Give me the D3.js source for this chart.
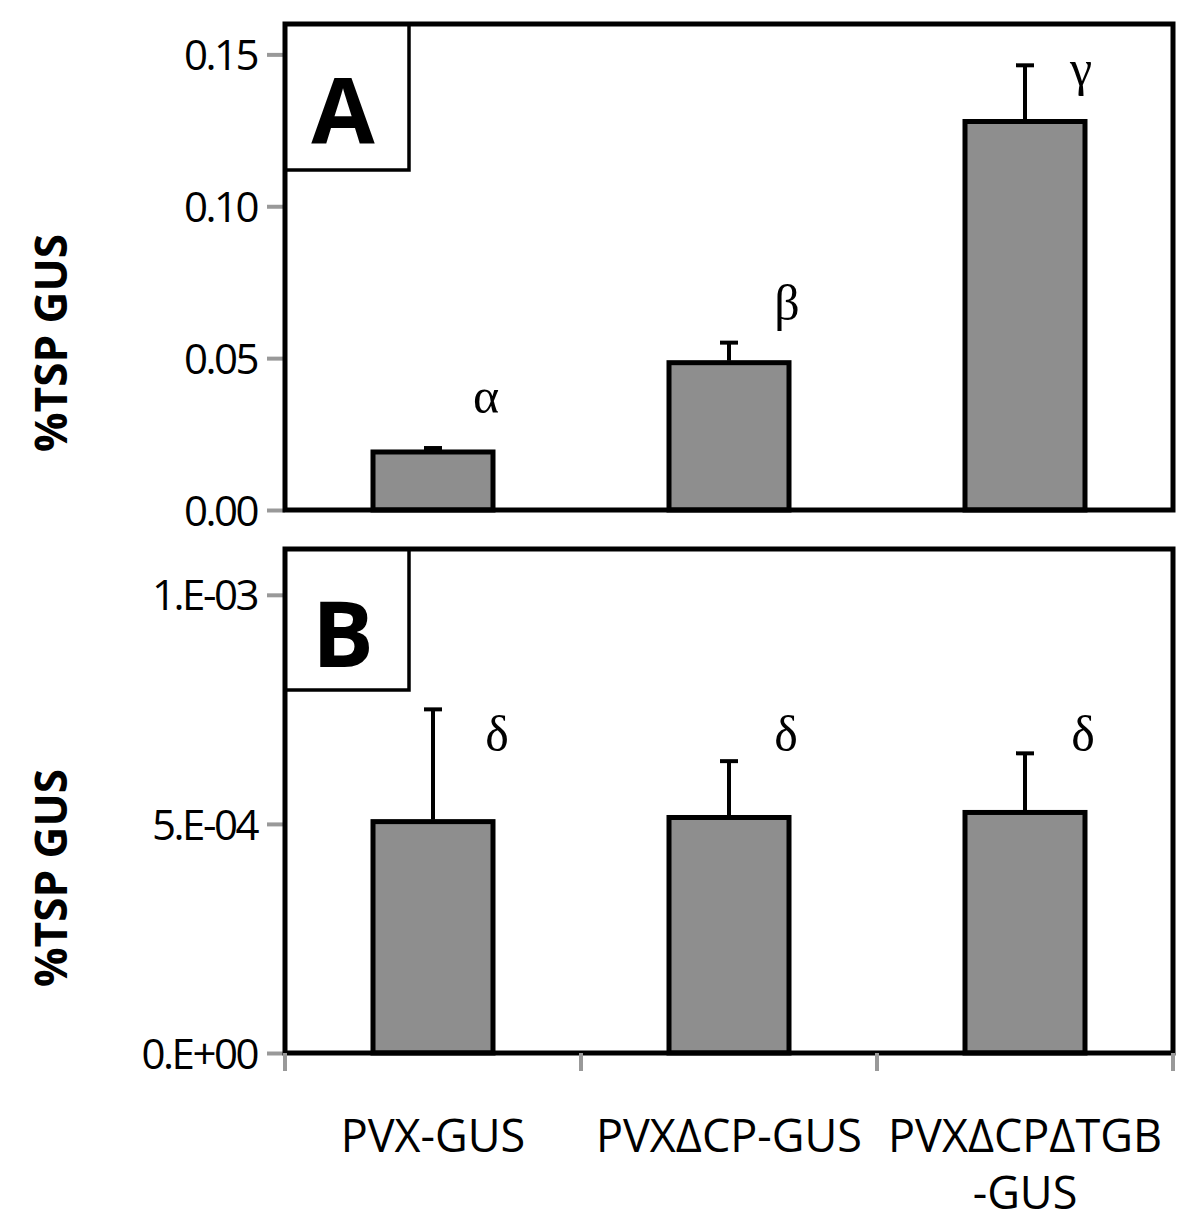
<!DOCTYPE html>
<html><head><meta charset="utf-8">
<script src="https://cdn.jsdelivr.net/npm/d3@7"></script>
<style>body{margin:0;background:#fff}svg{display:block}</style>
</head><body>
<svg id="c" width="1200" height="1226"></svg>
<script>
const categories = ["PVX-GUS", "PVXΔCP-GUS", "PVXΔCPΔTGB\n-GUS"];
const valuesA = [0.0191, 0.0485, 0.1279];
const errorsA = [0.0013, 0.0066, 0.0185];
const lettersA = ["α", "β", "γ"];
const valuesB = [5.05e-4, 5.14e-4, 5.25e-4];
const errorsB = [2.45e-4, 1.23e-4, 1.29e-4];
const lettersB = ["δ", "δ", "δ"];
const ticksA = [0, 0.05, 0.10, 0.15];
const tickLabelsA = ["0.00", "0.05", "0.10", "0.15"];
const ticksB = [0, 5e-4, 1e-3];
const tickLabelsB = ["0.E+00", "5.E-04", "1.E-03"];

const svg = d3.select("#c");
const left = 285, right = 1173;
const x = d3.scaleBand().domain(d3.range(categories.length)).range([left, right]).paddingInner(0).paddingOuter(0);
const barW = 120;
const font = "'Open Sans', 'Liberation Sans', sans-serif";
const serif = "'Liberation Serif', 'DejaVu Serif', serif";

function panel(top, bottom, max, vals, errs, letters, ticks, tickLabels, letterName, labelBoxH, ylabelY, letterPos) {
  const y = d3.scaleLinear().domain([0, max]).range([bottom, top]);
  const g = svg.append("g");
  const axis = d3.axisLeft(y).tickValues(ticks).tickFormat((d, i) => tickLabels[i]).tickSize(18).tickPadding(10);
  const ag = g.append("g").attr("transform", `translate(${left},0)`).call(axis);
  ag.select(".domain").remove();
  ag.selectAll(".tick line").attr("stroke", "#999").attr("stroke-width", 4);
  ag.selectAll(".tick text").attr("font-family", font).attr("font-size", 42)
    .attr("letter-spacing", -2.5).attr("fill", "#000").attr("dy", "0.36em");
  g.selectAll("rect.bar").data(vals).join("rect").attr("class", "bar")
    .attr("x", (d, i) => x(i) + x.bandwidth() / 2 - barW / 2)
    .attr("y", d => y(d)).attr("width", barW).attr("height", d => y(0) - y(d))
    .attr("fill", "#8e8e8e").attr("stroke", "#000").attr("stroke-width", 5);
  vals.forEach((v, i) => {
    const cx = x(i) + x.bandwidth() / 2;
    g.append("line").attr("x1", cx).attr("x2", cx).attr("y1", y(v) - 2).attr("y2", y(v + errs[i]))
      .attr("stroke", "#000").attr("stroke-width", 4);
    g.append("line").attr("x1", cx - 9).attr("x2", cx + 9).attr("y1", y(v + errs[i])).attr("y2", y(v + errs[i]))
      .attr("stroke", "#000").attr("stroke-width", 4);
    g.append("text").attr("x", cx + letterPos[i][0]).attr("y", letterPos[i][1])
      .attr("font-family", serif).attr("font-size", 50)
      .attr("text-anchor", "middle").text(letters[i]);
  });
  g.append("rect").attr("x", left).attr("y", top).attr("width", right - left).attr("height", bottom - top)
    .attr("fill", "none").attr("stroke", "#000").attr("stroke-width", 5);
  g.append("rect").attr("x", left).attr("y", top).attr("width", 124).attr("height", labelBoxH)
    .attr("fill", "none").attr("stroke", "#000").attr("stroke-width", 3.5);
  g.append("text").attr("x", left + 58).attr("y", top + labelBoxH / 2 + 47)
    .attr("text-anchor", "middle").attr("font-family", font).attr("font-weight", "bold")
    .attr("font-size", 92).text(letterName);
  g.append("text").attr("transform", `translate(67,${ylabelY}) rotate(-90)`)
    .attr("text-anchor", "middle").attr("font-family", font).attr("font-weight", "bold")
    .attr("font-size", 44).text("%TSP GUS");
  return y;
}

panel(24, 510, 0.16, valuesA, errorsA, lettersA, ticksA, tickLabelsA, "A", 146, 343,
  [[53, 413], [58, 320], [56, 85]]);
panel(549, 1053, 1.1e-3, valuesB, errorsB, lettersB, ticksB, tickLabelsB, "B", 141, 878,
  [[64, 751], [57, 751], [58, 751]]);

const bounds = d3.range(categories.length + 1).map(i => left + i * x.bandwidth());
svg.selectAll("line.xt").data(bounds).join("line").attr("class", "xt")
  .attr("x1", d => d).attr("x2", d => d).attr("y1", 1053).attr("y2", 1071)
  .attr("stroke", "#999").attr("stroke-width", 4);

categories.forEach((c, i) => {
  const cx = x(i) + x.bandwidth() / 2;
  const lines = c.split("\n");
  const t = svg.append("text").attr("text-anchor", "middle").attr("font-family", font).attr("font-size", 45);
  lines.forEach((l, j) => t.append("tspan").attr("x", cx).attr("y", 1152 + j * 57).text(l));
});
</script>
</body></html>
